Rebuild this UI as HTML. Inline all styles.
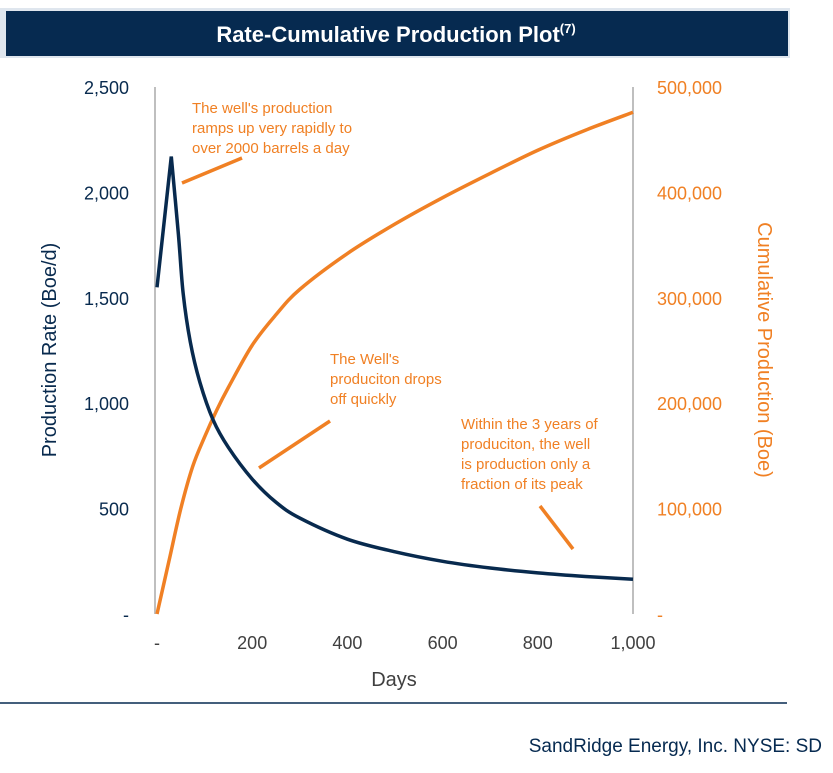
<!DOCTYPE html>
<html><head><meta charset="utf-8"><style>
body{margin:0;background:#fff;width:833px;height:768px;overflow:hidden;font-family:"Liberation Sans",sans-serif}
</style></head><body>
<svg width="833" height="768" xmlns="http://www.w3.org/2000/svg">
<rect x="0" y="8" width="790" height="50" fill="#dfe6ee"/>
<rect x="6" y="11" width="782" height="45" fill="#062a50"/>
<text x="396" y="42" text-anchor="middle" fill="#fff" font-size="22" font-weight="bold">Rate-Cumulative Production Plot<tspan font-size="13" dy="-9">(7)</tspan></text>
<line x1="155" y1="87" x2="155" y2="614" stroke="#bfbfbf" stroke-width="2"/>
<line x1="633" y1="87" x2="633" y2="614" stroke="#bfbfbf" stroke-width="2"/>
<g id="ticks"></g>
<path id="cum" fill="none" stroke="#f08024" stroke-width="3.5"/>
<path id="rate" fill="none" stroke="#082a4e" stroke-width="3.5"/>
<text transform="translate(56,350) rotate(-90)" text-anchor="middle" font-size="20" fill="#082a4e">Production Rate (Boe/d)</text>
<text transform="translate(758,350) rotate(90)" text-anchor="middle" font-size="20" fill="#f08024">Cumulative Production (Boe)</text>
<text x="394" y="686" text-anchor="middle" font-size="20" fill="#404040">Days</text>
<g fill="#f08024" font-size="15">
<text x="192" y="113">The well's production</text><text x="192" y="133">ramps up very rapidly to</text><text x="192" y="153">over 2000 barrels a day</text>
<text x="330" y="364">The Well's</text><text x="330" y="384">produciton drops</text><text x="330" y="404">off quickly</text>
<text x="461" y="429">Within the 3 years of</text><text x="461" y="449">produciton, the well</text><text x="461" y="469">is production only a</text><text x="461" y="489">fraction of its peak</text>
</g>
<g stroke="#f08024" stroke-width="3.5">
<line x1="182" y1="183" x2="242" y2="158"/><line x1="259" y1="468" x2="330" y2="421"/><line x1="540" y1="506" x2="573" y2="549"/>
</g>
<line x1="0" y1="703" x2="787" y2="703" stroke="#062a50" stroke-width="1.5"/>
<text x="822" y="752" text-anchor="end" font-size="19" fill="#062a50">SandRidge Energy, Inc.  NYSE: SD</text>
</svg>
<script>
const days=[0,30,45,55,70,90,118,150,200,250,300,400,500,600,700,800,900,1000];
const rate=[1550,2170,1800,1520,1290,1100,920,790,640,530,455,355,295,250,218,195,178,165];
const cumDays=[0,25,50,75,100,125,150,200,250,300,400,500,600,700,800,900,1000];
const cum=[0,50000,100000,140000,168000,193000,215000,255000,284000,308000,342000,370000,395000,418000,440000,459000,476000];
const leftTicks=[0,500,1000,1500,2000,2500];
const leftLabels=["-","500","1,000","1,500","2,000","2,500"];
const rightTicks=[0,100000,200000,300000,400000,500000];
const rightLabels=["-","100,000","200,000","300,000","400,000","500,000"];
const xTicks=[0,200,400,600,800,1000];
const xLabels=["-","200","400","600","800","1,000"];
const X=d=>157+d*0.476, Y=v=>614-v*0.2108, Y2=v=>614-v*0.001054;
const ns="http://www.w3.org/2000/svg",g=document.getElementById('ticks');
function t(x,y,s,a,c,n){const e=document.createElementNS(ns,'text');e.setAttribute('x',x);e.setAttribute('y',y);e.setAttribute('text-anchor',a);e.setAttribute('fill',c);e.setAttribute('font-size','18');e.textContent=s;


g.appendChild(e);}
leftTicks.forEach((v,i)=>t(129,Y(v)+7,leftLabels[i],'end','#082a4e','left-tick-label'));
rightTicks.forEach((v,i)=>t(657,Y2(v)+7,rightLabels[i],'start','#f08024','right-tick-label'));
xTicks.forEach((v,i)=>t(X(v),649,xLabels[i],'middle','#404040','x-tick-label'));
function smooth(xs,ys,sharp){const p=xs.map((x,i)=>[x,ys[i]]);let d='M'+p[0][0]+','+p[0][1];
for(let i=0;i<p.length-1;i++){const p0=p[i-1]||p[i],p1=p[i],p2=p[i+1],p3=p[i+2]||p2;
const k1=(sharp&&(i===0||i===1))?0:1/6,k2=(sharp&&i===0)?0:1/6;
d+=` C${p1[0]+(p2[0]-p0[0])*k1},${p1[1]+(p2[1]-p0[1])*k1} ${p2[0]-(p3[0]-p1[0])*k2},${p2[1]-(p3[1]-p1[1])*k2} ${p2[0]},${p2[1]}`;}return d;}
document.getElementById('rate').setAttribute('d',smooth(days.map(X),rate.map(Y),true));
document.getElementById('cum').setAttribute('d',smooth(cumDays.map(X),cum.map(Y2),false));
</script>
</body></html>
